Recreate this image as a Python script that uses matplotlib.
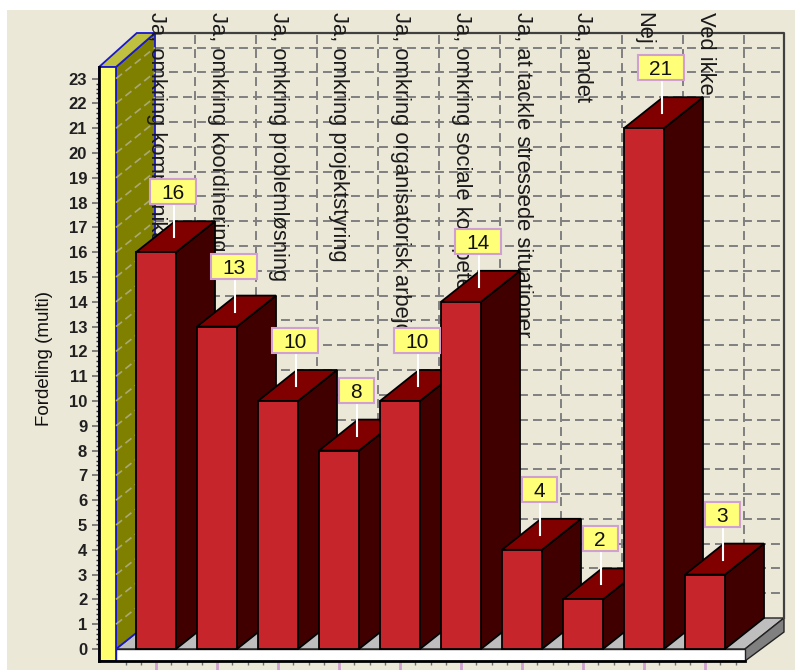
import matplotlib
matplotlib.use("Agg")
import matplotlib.pyplot as plt
from matplotlib.patches import Polygon, Rectangle

categories = ["Ja, omkring kommunikation", "Ja, omkring koordinering", "Ja, omkring problemløsning",
              "Ja, omkring projektstyring", "Ja, omkring organisatorisk arbejde",
              "Ja, omkring sociale kompetencer", "Ja, at tackle stressede situationer",
              "Ja, andet", "Nej", "Ved ikke"]
values = [16, 13, 10, 8, 10, 14, 4, 2, 21, 3]
yticks = list(range(24))

W, H = 795, 670
PX = 61.0      # pixels per category
PY = 24.8      # pixels per unit
X0, Y0 = 156, 649
DX, DY = 39 / PX, 31 / PY   # 3D depth in data units
BW = 40 / PX
XL, XF, XR = (99 - X0) / PX, (116 - X0) / PX, (745 - X0) / PX
YB = (Y0 - 661) / PY
WALL_TOP, BACK_TOP = (Y0 - 67) / PY, (Y0 - 33) / PY

BG = "#EBE8D8"
fig = plt.figure(figsize=(W / 100, H / 100), dpi=100, facecolor="white")
fig.patches.append(Rectangle((7 / W, 0), 1, 1 - 10 / H, transform=fig.transFigure, fc=BG, ec="none", zorder=-5))
ax = fig.add_axes([99 / W, (H - 661) / H, (W - 99) / W, (661 - 12) / H])
ax.patch.set_visible(False)
ax.set_xlim(XL, (W - X0) / PX)
ax.set_ylim(YB, (Y0 - 12) / PY)


def poly(pts, fc, ec="black", lw=1.2, z=1):
    ax.add_patch(Polygon(pts, closed=True, fc=fc, ec=ec, lw=lw, zorder=z, clip_on=False, joinstyle="miter"))


DASH = (0, (4.6, 2.6))
BACK_L, BACK_R = XF + DX, XR + DX

# floor
poly([(XF, 0), (BACK_L, DY), (BACK_R, DY), (XR, 0)], "#BEBEBE", "#222222", 1.0, 1.0)
poly([(XR, 0), (BACK_R, DY), (BACK_R, (Y0 - 632) / PY), (XR, YB)], "#808080", "#222222", 1.0, 1.0)
ax.add_patch(Rectangle((XF, YB), XR - XF, -YB, fc="white", ec="#222222", lw=1.0, zorder=1.1))

# back wall frame
ax.plot([BACK_L, BACK_R, BACK_R], [BACK_TOP, BACK_TOP, DY], color="#404040", lw=1.6, zorder=1.2)

# back wall grid
for v in yticks[1:]:
    ax.plot([BACK_L, BACK_R], [v + DY, v + DY], color="#808080", lw=1.4, ls=DASH, zorder=0.8)
for i in range(len(categories)):
    ax.plot([i + DX, i + DX], [DY, BACK_TOP], color="#808080", lw=1.4, ls=DASH, zorder=0.8)

# left wall
poly([(XF, 0), (BACK_L, DY), (BACK_L, BACK_TOP), (XF, WALL_TOP)], "#808000", "#1818D0", 1.3, 1.3)
poly([(XL, WALL_TOP), (XF, WALL_TOP), (BACK_L, BACK_TOP), (XL + DX - 0.02, BACK_TOP)], "#C0C040", "#1818D0", 1.3, 1.3)
poly([(XL, YB), (XF, YB), (XF, WALL_TOP), (XL, WALL_TOP)], "#FFFF70", "#1818D0", 1.3, 1.3)
for v in yticks[1:]:
    ax.plot([XF, BACK_L], [v, v + DY], color="#A8A878", lw=1.2, ls=DASH, zorder=1.4)

# bars
for i, v in enumerate(values):
    z = 5 + i
    l, r = i - BW / 2, i + BW / 2
    poly([(r, 0), (r + DX, DY), (r + DX, v + DY), (r, v)], "#400000", "black", 1.3, z)
    poly([(l, v), (l + DX, v + DY), (r + DX, v + DY), (r, v)], "#800000", "black", 1.3, z)
    ax.bar(i, v, width=BW, color="#C6252C", edgecolor="black", linewidth=1.3, zorder=z + 0.5, clip_on=False)

# value labels
for i, v in enumerate(values):
    s = str(v)
    cx = i + 17 / PX
    w = (46 if len(s) > 1 else 35) / PX
    bottom = v + 48 / PY
    h = 25 / PY
    ax.plot([cx + 1 / PX, cx + 1 / PX], [v + 15 / PY, bottom], color="white", lw=1.5, zorder=30)
    ax.add_patch(Rectangle((cx - w / 2, bottom), w, h, fc="#FFFF78", ec="#D0A0D0", lw=1.5, zorder=31))
    ax.text(cx, bottom + h / 2, s, ha="center", va="center_baseline", fontsize=15,
            family="Liberation Sans", color="#111111", zorder=32)

# axes
for s in ("top", "right"):
    ax.spines[s].set_visible(False)
ax.spines["left"].set_bounds(YB, WALL_TOP)
ax.spines["bottom"].set_bounds(XL, XR)
ax.spines["left"].set_linewidth(2)
ax.spines["bottom"].set_linewidth(2)
ax.spines["left"].set_zorder(3)
ax.spines["bottom"].set_zorder(3)

ax.set_yticks(yticks)
ax.set_yticks([t / 5 for t in range(0, 23 * 5 + 1) if t % 5], minor=True)
ax.tick_params(axis="y", which="major", length=5, width=1.1, color="#606060", pad=3.5)
ax.tick_params(axis="y", which="minor", length=2.2, width=1.0, color="#303030")
for t in ax.get_yticklabels():
    t.set_family("Liberation Sans")
    t.set_fontweight("bold")
    t.set_fontsize(12)
    t.set_color("#202020")

ax.set_xticks(range(len(categories)))
ax.set_xticks([i + d for i in range(len(categories)) for d in (-0.5, -0.25, 0.25)] + [9.5], minor=True)
ax.tick_params(axis="x", which="major", bottom=True, top=False, labelbottom=False, labeltop=True,
               length=6.5, width=2, color="#D0A0D0", pad=-6.5)
ax.tick_params(axis="x", which="minor", bottom=True, top=False, length=3, width=1, color="#707070")
ax.set_xticklabels(categories, rotation=-90, va="top", ha="center",
                   family=["Liberation Sans Narrow", "Liberation Sans"], fontsize=15.8, color="#1A1A1A")

ax.set_ylabel("Fordeling (multi)", family=["Liberation Sans Narrow", "Liberation Sans"], fontsize=13.5, color="#111111")
ax.yaxis.set_label_coords((53 - 99) / (W - 99), (661 - 358) / (661 - 12))

fig.savefig("out.png", dpi=100, facecolor=fig.get_facecolor())
